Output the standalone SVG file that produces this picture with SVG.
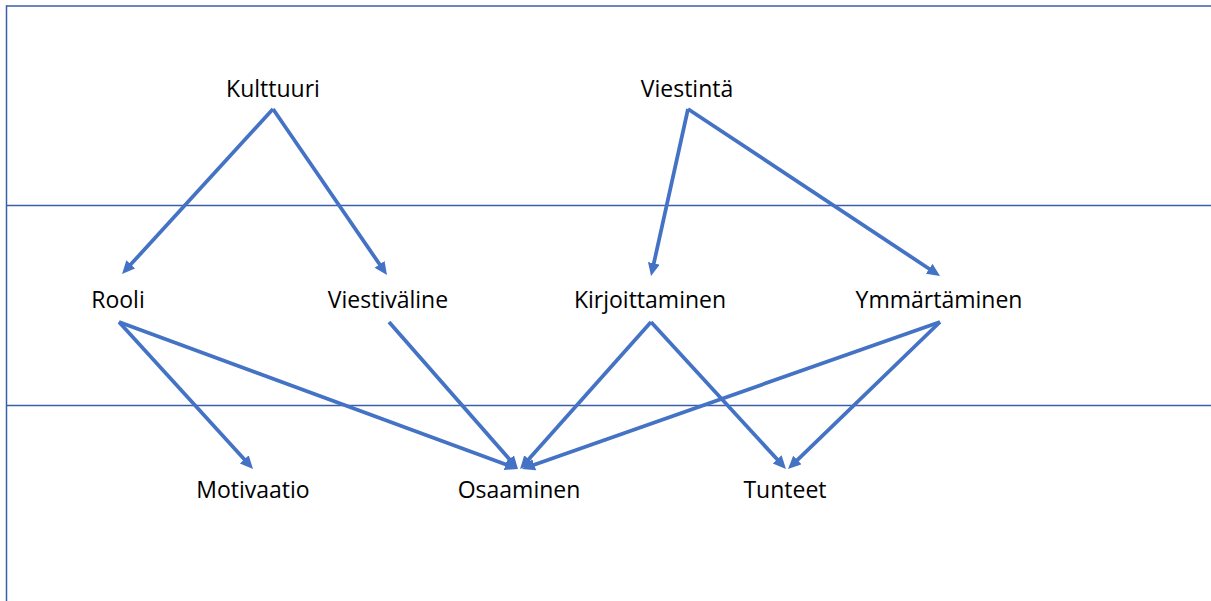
<svg xmlns="http://www.w3.org/2000/svg" width="1211" height="601" viewBox="0 0 1211 601">
  <style>
    .frame { stroke: #3b5fa7; stroke-width: 1.5; fill: none; }
    .edge { stroke: #4472c4; stroke-width: 3.75; fill: none; marker-end: url(#head); }
    .label { font-family: "Open Sans", "Liberation Sans", sans-serif; font-size: 23px; fill: #000; text-anchor: middle; }
  </style>
  <defs>
    <marker id="head" markerUnits="userSpaceOnUse" markerWidth="14" markerHeight="14" refX="3" refY="6" orient="auto">
      <path d="M0,0 L13,6 L0,12 z" fill="#4472c4"/>
    </marker>
  </defs>
  <rect width="1211" height="601" fill="#ffffff"/>

  <!-- frame and level separators -->
  <g id="frame">
    <line class="frame" x1="6" y1="6" x2="1211" y2="6"/>
    <line class="frame" x1="6.5" y1="5.5" x2="6.5" y2="601"/>
    <line class="frame" x1="6" y1="205.5" x2="1211" y2="205.5"/>
    <line class="frame" x1="6" y1="405.5" x2="1211" y2="405.5"/>
  </g>

  <!-- connectors -->
  <g id="connectors">
    <line class="edge" x1="273" y1="109" x2="128.8" y2="266.6"/>
    <line class="edge" x1="273" y1="109" x2="381.3" y2="266.8"/>
    <line class="edge" x1="688" y1="109" x2="653.2" y2="266.2"/>
    <line class="edge" x1="688" y1="109" x2="931.7" y2="270.5"/>
    <line class="edge" x1="119" y1="322" x2="246.3" y2="461.6"/>
    <line class="edge" x1="119" y1="322" x2="508.6" y2="465.5"/>
    <line class="edge" x1="389" y1="322" x2="511.4" y2="461.5"/>
    <line class="edge" x1="651" y1="322" x2="526.7" y2="461.5"/>
    <line class="edge" x1="651" y1="322" x2="779.2" y2="461.6"/>
    <line class="edge" x1="940" y1="322" x2="531.4" y2="465.7"/>
    <line class="edge" x1="940" y1="322" x2="795.2" y2="462.1"/>
  </g>

  <!-- nodes -->
  <g id="kulttuuri"><text class="label" x="273" y="97">Kulttuuri</text></g>
  <g id="viestinta"><text class="label" x="687" y="97">Viestintä</text></g>
  <g id="rooli"><text class="label" x="118" y="308">Rooli</text></g>
  <g id="viestivaline"><text class="label" x="388" y="308">Viestiväline</text></g>
  <g id="kirjoittaminen"><text class="label" x="650" y="308">Kirjoittaminen</text></g>
  <g id="ymmartaminen"><text class="label" x="939" y="308">Ymmärtäminen</text></g>
  <g id="motivaatio"><text class="label" x="253" y="498">Motivaatio</text></g>
  <g id="osaaminen"><text class="label" x="519" y="498">Osaaminen</text></g>
  <g id="tunteet"><text class="label" x="785" y="498">Tunteet</text></g>
</svg>
